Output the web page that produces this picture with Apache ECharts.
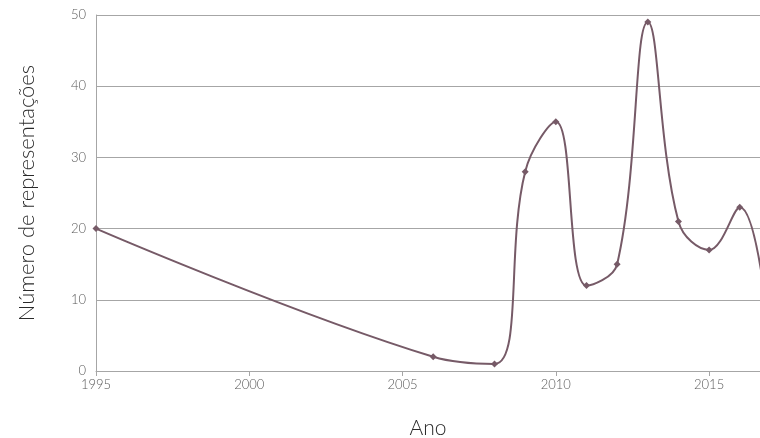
<!DOCTYPE html>
<html>
<head>
<meta charset="utf-8">
<script src="https://cdn.jsdelivr.net/npm/echarts@6/dist/echarts.min.js"></script>
<style>
  html, body { margin: 0; padding: 0; background: #fff; }
  #chart { width: 760px; height: 438px; }
</style>
</head>
<body>
<div id="chart"></div>
<script>
// anos e número de representações
var years = [1995, 2006, 2008, 2009, 2010, 2011, 2012, 2013, 2014, 2015, 2016, 2017];
var counts = [20, 2, 1, 28, 35, 12, 15, 49, 21, 17, 23, 4];
var yTicks = [0, 10, 20, 30, 40, 50];

var lineColor = '#765a67';
var fontFam = 'Lato, "DejaVu Sans", sans-serif';

var chart = echarts.init(document.getElementById('chart'));
chart.setOption({
  animation: false,
  grid: { left: 96, right: 0, top: 15, bottom: 67, containLabel: false, outerBoundsMode: 'none' },
  xAxis: {
    type: 'value',
    min: 1995,
    max: 2016.66,
    interval: 5,
    name: 'Ano',
    nameLocation: 'middle',
    nameGap: 47,
    nameTextStyle: { fontSize: 21, color: '#2a2a2a', fontFamily: fontFam, fontWeight: 300 },
    axisLine: { lineStyle: { color: '#a6a6a6', width: 1 } },
    axisTick: { show: true, length: 5, lineStyle: { color: '#a6a6a6' } },
    splitLine: { show: false },
    axisLabel: {
      color: '#595959', fontSize: 13, fontFamily: fontFam, fontWeight: 300, margin: 7,
      formatter: function (v) { return v % 5 === 0 ? String(v) : ''; }
    }
  },
  yAxis: {
    type: 'value',
    min: yTicks[0],
    max: yTicks[yTicks.length - 1],
    interval: 10,
    name: 'Número de representações',
    nameLocation: 'middle',
    nameGap: 58,
    nameTextStyle: { fontSize: 22, color: '#2a2a2a', fontFamily: fontFam, fontWeight: 300 },
    axisLine: { show: true, lineStyle: { color: '#a6a6a6', width: 1 } },
    axisTick: { show: false },
    splitLine: { lineStyle: { color: '#a6a6a6', width: 1 } },
    axisLabel: { color: '#595959', fontSize: 13, fontFamily: fontFam, fontWeight: 300, margin: 10 }
  },
  series: [{
    type: 'line',
    data: years.map(function (y, i) { return [y, counts[i]]; }),
    smooth: 0.4,
    clip: true,
    symbol: 'diamond',
    symbolSize: 7,
    lineStyle: { color: lineColor, width: 2 },
    itemStyle: { color: lineColor }
  }]
});
</script>
</body>
</html>
